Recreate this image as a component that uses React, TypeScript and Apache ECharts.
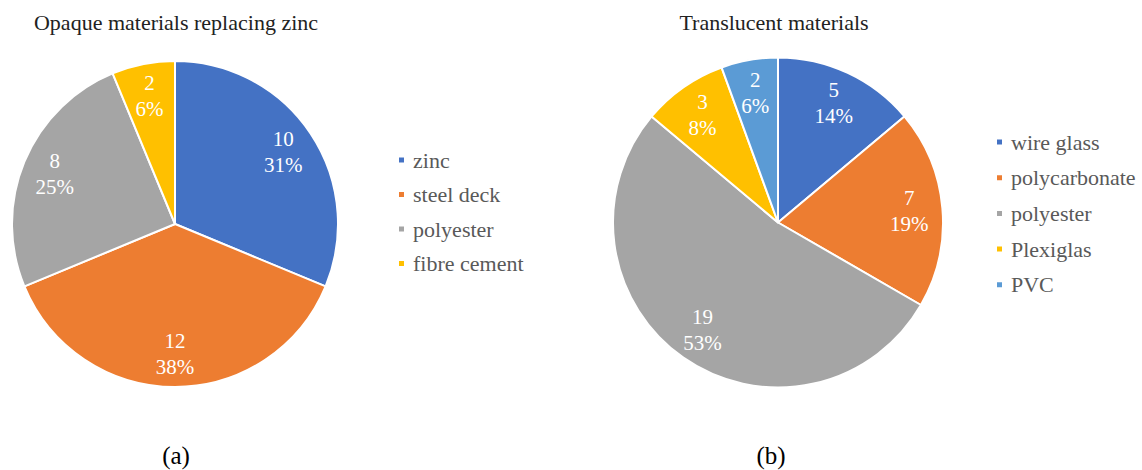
import React, { useEffect, useRef } from "react";
import * as echarts from "echarts";

const opaqueNames = ["zinc", "steel deck", "polyester", "fibre cement"];
const opaqueValues = [10, 12, 8, 2];
const opaqueColors = ["#4472C4", "#ED7D31", "#A5A5A5", "#FFC000"];

const transNames = ["wire glass", "polycarbonate", "polyester", "Plexiglas", "PVC"];
const transValues = [5, 7, 19, 3, 2];
const transColors = ["#4472C4", "#ED7D31", "#A5A5A5", "#FFC000", "#5B9BD5"];

const titles = ["Opaque materials replacing zinc", "Translucent materials"];
const captions = ["(a)", "(b)"];

const FONT = "Liberation Serif";

function pieSeries(
  names: string[],
  values: number[],
  colors: string[],
  center: [number, number],
  r: number
) {
  const data = names.map((n, i) => ({ name: n, value: values[i], itemStyle: { color: colors[i] } }));
  const labelData = names.map((n, i) => ({ name: n, value: values[i], itemStyle: { color: "rgba(0,0,0,0)" } }));
  return [
    {
      type: "pie",
      center,
      radius: [0, r],
      startAngle: 90,
      clockwise: true,
      avoidLabelOverlap: false,
      itemStyle: { borderColor: "#fff", borderWidth: 2 },
      label: { show: false },
      labelLine: { show: false },
      emphasis: { disabled: true },
      data,
    },
    {
      type: "pie",
      center,
      radius: [r * 0.56, r],
      startAngle: 90,
      clockwise: true,
      silent: true,
      percentPrecision: 0,
      avoidLabelOverlap: false,
      itemStyle: { borderWidth: 0 },
      label: {
        show: true,
        position: "inside",
        formatter: "{c}\n{d}%",
        color: "#fff",
        fontFamily: FONT,
        fontSize: 21,
        lineHeight: 26,
      },
      labelLine: { show: false },
      emphasis: { disabled: true },
      legendHoverLink: false,
      data: labelData,
    },
  ];
}

function textEl(text: string, x: number, y: number, size: number, fill: string) {
  return {
    type: "text",
    x,
    y,
    style: {
      text,
      fontFamily: FONT,
      fontSize: size,
      fill,
      textAlign: "center",
      textVerticalAlign: "middle",
      align: "center",
      verticalAlign: "middle",
    },
  };
}

export default function App() {
  const ref = useRef<HTMLDivElement>(null);
  useEffect(() => {
    if (!ref.current) return;
    const chart = echarts.init(ref.current, undefined, { renderer: "svg" });
    const legendText = { color: "#595959", fontFamily: FONT, fontSize: 22, lineHeight: 22, padding: [0, 0, 0, 3] };
    chart.setOption({
      animation: false,
      backgroundColor: "#fff",
      legend: [
        {
          orient: "vertical",
          left: 397,
          top: 149,
          padding: 0,
          icon: "rect",
          itemWidth: 7,
          itemHeight: 7,
          itemGap: 12.5,
          textStyle: legendText,
          data: opaqueNames,
          selectedMode: false,
        },
        {
          orient: "vertical",
          left: 995,
          top: 131,
          padding: 0,
          icon: "rect",
          itemWidth: 7,
          itemHeight: 7,
          itemGap: 13.7,
          textStyle: legendText,
          data: transNames,
          selectedMode: false,
        },
      ],
      graphic: [
        textEl(titles[0], 176, 22, 22, "#222"),
        textEl(titles[1], 774, 22, 22, "#222"),
        textEl(captions[0], 176, 455, 25, "#000"),
        textEl(captions[1], 771, 455, 25, "#000"),
      ],
      series: [
        ...pieSeries(opaqueNames, opaqueValues, opaqueColors, [175, 224], 163),
        ...pieSeries(transNames, transValues, transColors, [778, 222.5], 165),
      ],
    });
    return () => chart.dispose();
  }, []);
  return <div ref={ref} style={{ position: "fixed", left: 0, top: 0, width: 1142, height: 470 }} />;
}
